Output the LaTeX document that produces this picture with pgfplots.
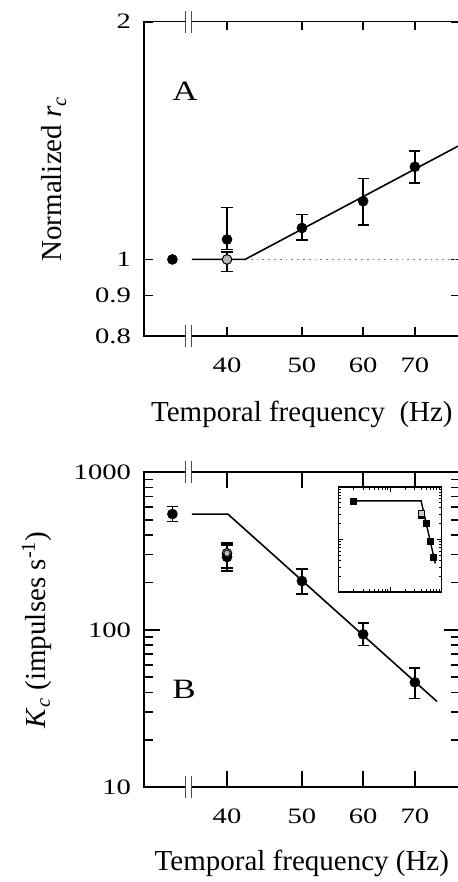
\documentclass[border=0pt]{standalone}
\usepackage{fontspec}
\setmainfont{Liberation Serif}
\usepackage{graphicx}
\usepackage{pgfplots}
\pgfplotsset{compat=1.18}

\pgfplotsset{
  blackdot/.style={only marks, mark=*, mark size=2.4pt, black,
    /pgfplots/error bars/y dir=both,
    /pgfplots/error bars/y explicit,
    /pgfplots/error bars/error bar style={line width=0.8pt},
    /pgfplots/error bars/error mark options={rotate=90, mark size=2.8pt, line width=0.8pt},
    mark options={fill=black, line width=0.5pt}},
  graydot/.style={blackdot, mark options={fill=gray!55, draw=black, line width=0.5pt}},
}
% wide-set tick numbers, as in the reference
\newcommand{\wn}[1]{\scalebox{1.3}[1]{#1}}

% axis break on bottom (#1 = ymin) and top (#2 = ymax) spines
\newcommand{\axisbreak}[2]{%
  \draw[white, line width=2.6pt] (axis cs:35.38,#1) -- (axis cs:36.02,#1);
  \draw[white, line width=2.6pt] (axis cs:35.38,#2) -- (axis cs:36.02,#2);
  \draw[black!70, line width=0.6pt] (axis cs:35.38,#1) ++(0pt,-5.5pt) -- ++(0pt,11pt);
  \draw[black!70, line width=0.6pt] (axis cs:36.02,#1) ++(0pt,-5.5pt) -- ++(0pt,11pt);
  \draw[black!70, line width=0.6pt] (axis cs:35.38,#2) ++(0pt,-5.5pt) -- ++(0pt,11pt);
  \draw[black!70, line width=0.6pt] (axis cs:36.02,#2) ++(0pt,-5.5pt) -- ++(0pt,11pt);
}

\begin{document}
\begin{tikzpicture}

% ---------------- panel A ----------------
\begin{axis}[scale only axis, anchor=south west, at={(72pt,273pt)},
  width=157.85pt, height=157.15pt,
  xmode=log, ymode=log,
  xmin=31.24, xmax=80, ymin=0.8, ymax=2,
  xtick={40,50,60,70}, xticklabels={\wn{40},\wn{50},\wn{60},\wn{70}}, xminorticks=false,
  ytick={0.8,0.9,1,2}, yticklabels={\wn{0.8},\wn{0.9},\wn{1},\wn{2}}, yminorticks=false,
  tick align=inside, major tick length=4.3pt,
  axis line style={line width=0.8pt},
  major tick style={black, line width=0.9pt},
  x tick label style={font=\fontsize{11}{13}\selectfont, yshift=-7.5pt},
  y tick label style={font=\fontsize{11}{13}\selectfont, xshift=-3pt},
  xlabel={Temporal frequency\ \ (Hz)},
  ylabel={Normalized \textit{r}\textsubscript{\textit{c}}},
  xlabel style={font=\fontsize{14.5}{16}\selectfont, anchor=center, at={(axis description cs:0.5,-0.248)}},
  ylabel style={font=\fontsize{14.5}{16}\selectfont, anchor=center, at={(axis description cs:-0.285,0.5)}},
  clip=false,
]
  \addplot[gray, dotted, line width=0.9pt] coordinates {(42.2,1) (80,1)};
  \addplot[black, line width=0.8pt] coordinates {(36.02,1) (42.2,1) (80,1.395)};
  \addplot[blackdot] coordinates {(34,1.0)};
  \addplot[blackdot] coordinates {
    (40,1.06)  += (0,0.104) -= (0,0.030)
    (50,1.096) += (0,0.044) -= (0,0.038)
    (60,1.185) += (0,0.081) -= (0,0.080)
    (70,1.31)  += (0,0.061) -= (0,0.060)
  };
  \addplot[graydot] coordinates {(40,1.0) += (0,0.022) -= (0,0.035)};
  \axisbreak{0.8}{2}
  \node[font=\fontsize{14}{17}\selectfont] at (rel axis cs:0.13,0.78) {\scalebox{1.25}[1]{A}};
\end{axis}

% ---------------- panel B ----------------
\begin{axis}[scale only axis, anchor=south west, at={(72pt,47.35pt)},
  width=157.85pt, height=157.5pt,
  xmode=log, ymode=log,
  xmin=31.24, xmax=80, ymin=10, ymax=1000,
  xtick={40,50,60,70}, xticklabels={\wn{40},\wn{50},\wn{60},\wn{70}}, xminorticks=false,
  ytick={10,100,1000}, yticklabels={\wn{10},\wn{100},\wn{1000}},
  tick align=inside, major tick length=8pt, minor tick length=4.3pt,
  axis line style={line width=0.8pt},
  major tick style={black, line width=0.9pt},
  minor tick style={black, line width=0.8pt},
  x tick label style={font=\fontsize{11}{13}\selectfont, yshift=-7.5pt},
  y tick label style={font=\fontsize{11}{13}\selectfont, xshift=-3pt},
  xlabel={Temporal frequency (Hz)},
  ylabel={\textit{K}\textsubscript{\textit{c}}\ (impulses s\textsuperscript{-1})},
  xlabel style={font=\fontsize{14.5}{16}\selectfont, anchor=center, at={(axis description cs:0.5,-0.241)}},
  ylabel style={font=\fontsize{14.5}{16}\selectfont, anchor=center, at={(axis description cs:-0.34,0.5)}},
  clip=false,
]
  \addplot[black, line width=0.8pt] coordinates {(36.02,543) (40.1,543) (74.8,35)};
  \addplot[blackdot] coordinates {(34,543) += (0,62) -= (0,57)};
  \addplot[graydot] coordinates {(40,306) += (0,51) -= (0,70)};
  \addplot[blackdot] coordinates {
    (40,290)  += (0,55)   -= (0,44)
    (50,204)  += (0,39)   -= (0,35)
    (60,93.6) += (0,16.4) -= (0,14.3)
    (70,46.4) += (0,10.6) -= (0,9.7)
  };
  \addplot[only marks, mark=*, mark size=1.6pt, mark options={fill=gray!55, draw=black, line width=0.4pt}] coordinates {(40,306)};
  \axisbreak{10}{1000}
  \node[font=\fontsize{14}{17}\selectfont] at (rel axis cs:0.127,0.312) {\scalebox{1.25}[1]{B}};
\end{axis}

% ---------------- inset ----------------
\begin{axis}[scale only axis, anchor=south west, at={(169.15pt,145pt)},
  width=51.7pt, height=52.5pt,
  xmode=log, ymode=log, xmin=1, xmax=100, ymin=10, ymax=1000,
  xticklabels={}, yticklabels={},
  tick align=inside, major tick length=2.4pt, minor tick length=1.3pt,
  axis line style={line width=0.6pt}, tick style={black, line width=0.4pt},
  axis background/.style={fill=white},
]
  \addplot[black, line width=0.7pt] coordinates {(2,543) (40,543) (75,35)};
  \addplot[only marks, mark=square*, mark size=1.5pt, black] coordinates {(2,543) (40,290) (50,204) (60,93.6) (70,46.4)};
  \addplot[only marks, mark=square*, mark size=1.5pt, mark options={fill=gray!40, draw=black}] coordinates {(40,318)};
\end{axis}

\pgfresetboundingbox
\useasboundingbox (0,0) rectangle (228.5pt,441pt);
\end{tikzpicture}
\end{document}
